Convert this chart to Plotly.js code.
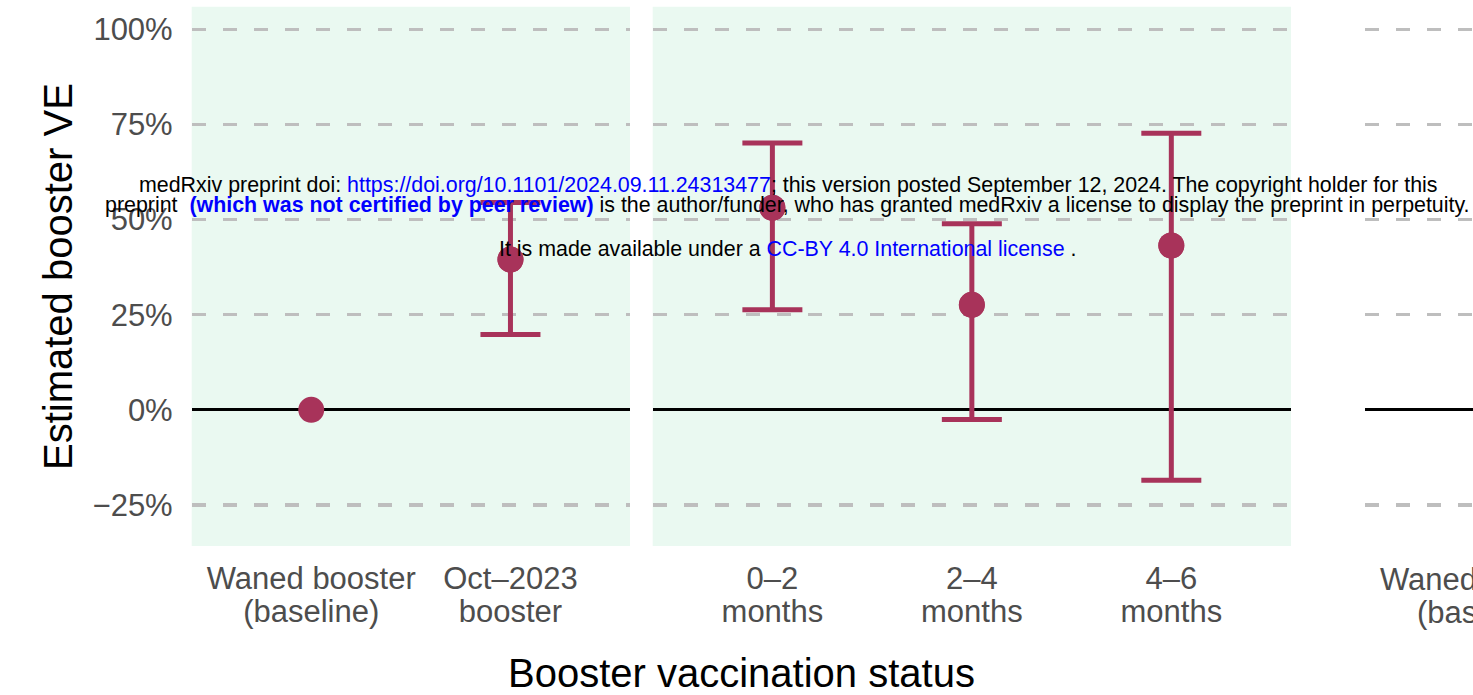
<!DOCTYPE html>
<html><head><meta charset="utf-8">
<script src="https://cdn.plot.ly/plotly-3.0.1.min.js"></script>
<style>html,body{margin:0;padding:0;background:#fff;overflow:hidden}</style>
</head><body><div id="chart" style="width:1473px;height:695px"></div>
<script>
// ---- data ----
const panel1Line1 = ["Waned booster", "Oct\u20132023"];
const panel1Line2 = ["(baseline)", "booster"];
const panel1Estimate = [0, 39.5];
const panel1Lower = [null, 19.8];
const panel1Upper = [null, 54.5];

const panel2Line1 = ["0\u20132", "2\u20134", "4\u20136"];
const panel2Line2 = ["months", "months", "months"];
const panel2Estimate = [53.1, 27.6, 43.2];
const panel2Lower = [26.3, -2.5, -18.5];
const panel2Upper = [70.1, 48.9, 72.7];

const panel3Line1 = ["Waned booster"];
const panel3Line2 = ["(baseline)"];
const panel3Estimate = [0];

const yTickValues = [-25, 0, 25, 50, 75, 100];
const yTickLabels = ["\u221225%", "0%", "25%", "50%", "75%", "100%"];

const xTitle = "Booster vaccination status";
const yTitle = "Estimated booster VE";

// ---- styling ----
const W = 1473, H = 695;
const FONT = "Liberation Sans, Arial, Helvetica, sans-serif";
const pointColor = "#A8335A";
const tickColor = "#4D4D4D";
const panelFill = "#EAF9F1";
const px = v => v / W;
const py = v => (H - v) / H;

const names1 = panel1Line1.map((s, i) => s + " " + panel1Line2[i]);
const names2 = panel2Line1.map((s, i) => s + " " + panel2Line2[i]);
const names3 = panel3Line1.map((s, i) => s + " " + panel3Line2[i]);

function pointTrace(x, est, xa, ya) {
  return {type: "scatter", mode: "markers", x: x, y: est, xaxis: xa, yaxis: ya,
          marker: {color: pointColor, size: 26}, cliponaxis: false, showlegend: false,
          hoverinfo: "x+y"};
}
function errTrace(x, est, lo, hi, xa, ya) {
  const idx = est.map((e, i) => i).filter(i => lo[i] != null && hi[i] != null);
  return {
    type: "scatter", mode: "markers", xaxis: xa, yaxis: ya,
    x: idx.map(i => x[i]), y: idx.map(i => est[i]),
    marker: {color: pointColor, size: 26},
    error_y: {
      type: "data", symmetric: false, visible: true,
      array: idx.map(i => hi[i] - est[i]),
      arrayminus: idx.map(i => est[i] - lo[i]),
      color: pointColor, thickness: 5, width: 30
    },
    cliponaxis: false, showlegend: false, hoverinfo: "x+y"
  };
}
// invisible carrier trace so the second-line label axis is drawn
function carrierTrace(est, xa, ya) {
  return {type: "scatter", mode: "markers", x: est.map((e, i) => i), y: est,
          xaxis: xa, yaxis: ya, marker: {opacity: 0, size: 1},
          showlegend: false, hoverinfo: "skip"};
}

const traces = [
  carrierTrace(panel1Estimate, "x4", "y"),
  carrierTrace(panel2Estimate, "x5", "y2"),
  pointTrace(names1, panel1Estimate, "x", "y"),
  errTrace(names1, panel1Estimate, panel1Lower, panel1Upper, "x", "y"),
  pointTrace(names2, panel2Estimate, "x2", "y2"),
  errTrace(names2, panel2Estimate, panel2Lower, panel2Upper, "x2", "y2"),
  pointTrace(names3, panel3Estimate, "x3", "y3")
];

const yDomain = [py(546), py(6.7)];
const yRange = [-35.77, 105.94];
const gridCommon = {
  showgrid: true, gridcolor: "#BEBEBE", gridwidth: 3.5, griddash: "14px,17px",
  zeroline: true, zerolinecolor: "#000000", zerolinewidth: 3,
  showline: false, ticks: "", range: yRange, domain: yDomain,
  tickvals: yTickValues, ticktext: yTickLabels, fixedrange: true
};
const tickFont = {family: FONT, size: 31, color: tickColor};
const xCommon = {showgrid: false, zeroline: false, showline: false,
                 ticks: "", tickfont: tickFont, fixedrange: true};
const range1 = [-0.6, 1.6], range2 = [-0.6, 2.6];

const layout = {
  width: W, height: H,
  margin: {l: 0, r: 0, t: 0, b: 0, pad: 0},
  paper_bgcolor: "#FFFFFF", plot_bgcolor: "rgba(0,0,0,0)",
  font: {family: FONT},
  showlegend: false,
  xaxis: Object.assign({}, xCommon, {type: "category", domain: [px(191.7), px(630)], anchor: "y",
      range: range1, categoryarray: names1, categoryorder: "array",
      tickvals: names1, ticktext: panel1Line1, ticklabelstandoff: 11}),
  xaxis4: Object.assign({}, xCommon, {type: "linear", overlaying: "x", anchor: "y",
      domain: [px(191.7), px(630)], range: range1,
      tickvals: panel1Line2.map((s, i) => i), ticktext: panel1Line2, ticklabelstandoff: 44}),
  xaxis2: Object.assign({}, xCommon, {type: "category", domain: [px(652.7), px(1291)], anchor: "y2",
      range: range2, categoryarray: names2, categoryorder: "array",
      tickvals: names2, ticktext: panel2Line1, ticklabelstandoff: 11}),
  xaxis5: Object.assign({}, xCommon, {type: "linear", overlaying: "x2", anchor: "y2",
      domain: [px(652.7), px(1291)], range: range2,
      tickvals: panel2Line2.map((s, i) => i), ticktext: panel2Line2, ticklabelstandoff: 44}),
  xaxis3: Object.assign({}, xCommon, {type: "category", domain: [px(1365), 1], anchor: "y3",
      range: [-0.6, -0.6 + 108 / 199.5], categoryarray: names3, categoryorder: "array",
      showticklabels: false}),
  yaxis: Object.assign({}, gridCommon, {anchor: "x", tickfont: tickFont, ticklabelstandoff: 18}),
  yaxis2: Object.assign({}, gridCommon, {anchor: "x2", matches: "y", showticklabels: false}),
  yaxis3: Object.assign({}, gridCommon, {anchor: "x3", matches: "y", showticklabels: false}),
  shapes: [
    {type: "rect", xref: "x domain", yref: "y domain", x0: 0, x1: 1, y0: 0, y1: 1,
     fillcolor: panelFill, line: {width: 0}, layer: "below"},
    {type: "rect", xref: "x2 domain", yref: "y2 domain", x0: 0, x1: 1, y0: 0, y1: 1,
     fillcolor: panelFill, line: {width: 0}, layer: "below"}
  ],
  annotations: [
    {text: xTitle, xref: "paper", yref: "paper", x: px(741.5), y: py(673),
     xanchor: "center", yanchor: "middle", showarrow: false,
     font: {family: FONT, size: 40, color: "#000000"}},
    {text: yTitle, xref: "paper", yref: "paper", x: px(58), y: py(277), textangle: -90,
     xanchor: "center", yanchor: "middle", showarrow: false,
     font: {family: FONT, size: 40, color: "#000000"}},
    {text: panel3Line1[0], xref: "paper", yref: "paper", x: px(1485), y: py(579),
     xanchor: "center", yanchor: "middle", showarrow: false, font: tickFont},
    {text: panel3Line2[0], xref: "paper", yref: "paper", x: px(1485), y: py(612),
     xanchor: "center", yanchor: "middle", showarrow: false, font: tickFont},
    // medRxiv watermark
    {text: 'medRxiv preprint doi: <span style="color:#0000FF">https://doi.org/10.1101/2024.09.11.24313477</span>; this version posted September 12, 2024. The copyright holder for this',
     xref: "paper", yref: "paper", x: px(789), y: py(185.5), xanchor: "center", yanchor: "middle",
     showarrow: false, font: {family: FONT, size: 21.4, color: "#000000"}},
    {text: 'preprint\u00a0\u00a0<b><span style="color:#0000FF">(which was not certified by peer review)</span></b> is the author/funder, who has granted medRxiv a license to display the preprint in perpetuity.',
     xref: "paper", yref: "paper", x: px(787.5), y: py(204.5), xanchor: "center", yanchor: "middle",
     showarrow: false, font: {family: FONT, size: 21.4, color: "#000000"}},
    {text: 'It is made available under a <span style="color:#0000FF">CC-BY 4.0 International license</span> .',
     xref: "paper", yref: "paper", x: px(788), y: py(248.5), xanchor: "center", yanchor: "middle",
     showarrow: false, font: {family: FONT, size: 21.4, color: "#000000"}}
  ]
};

Plotly.newPlot("chart", traces, layout, {displayModeBar: false, staticPlot: true});
</script></body></html>
